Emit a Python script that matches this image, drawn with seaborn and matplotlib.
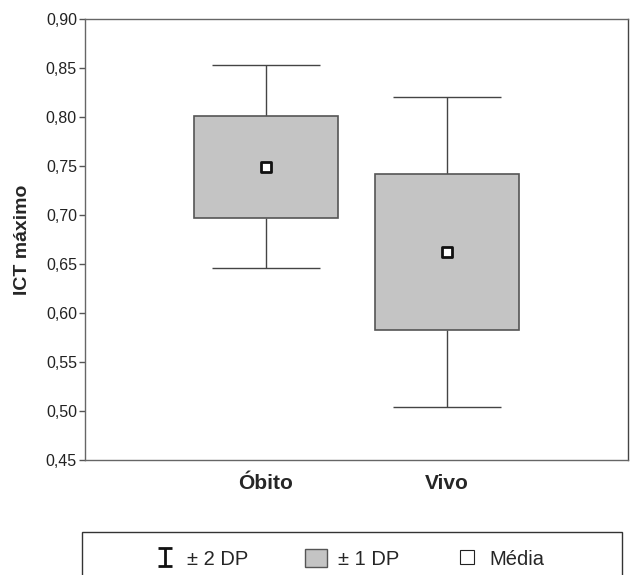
import numpy as np
import matplotlib
matplotlib.use("Agg")
import matplotlib.pyplot as plt
from matplotlib.lines import Line2D
from matplotlib.patches import Patch, Rectangle
from matplotlib.path import Path
from matplotlib.ticker import FuncFormatter
import seaborn as sns

# ---- data ----
groups = ["Óbito", "Vivo"]
means = [0.749, 0.662]
sd1_low = [0.697, 0.583]
sd1_high = [0.801, 0.742]
sd2_low = [0.646, 0.504]
sd2_high = [0.853, 0.820]
y_ticks = [0.45, 0.50, 0.55, 0.60, 0.65, 0.70, 0.75, 0.80, 0.85, 0.90]

sns.set_style("white")
plt.rcParams["font.family"] = ["Liberation Sans", "DejaVu Sans"]

fig = plt.figure(figsize=(6.3, 5.75), dpi=100)
ax = fig.add_axes([85 / 630, 1 - 460 / 575, (628 - 85) / 630, (460 - 19) / 575])

box_face = "#c4c4c4"
box_edge = "#555555"
line_col = "#444444"

heights = [h - l for h, l in zip(sd1_high, sd1_low)]
sns.barplot(x=groups, y=heights, bottom=sd1_low, ax=ax, color=box_face,
            edgecolor=box_edge, linewidth=1.2, width=0.8, errorbar=None,
            saturation=1, zorder=2)

pos = np.arange(len(groups))
cap = 0.3
ax.vlines(pos, sd1_high, sd2_high, color=line_col, lw=1, zorder=1)
ax.vlines(pos, sd2_low, sd1_low, color=line_col, lw=1, zorder=1)
ax.hlines(sd2_high, pos - cap, pos + cap, color=line_col, lw=1, zorder=1)
ax.hlines(sd2_low, pos - cap, pos + cap, color=line_col, lw=1, zorder=1)

sns.scatterplot(x=pos, y=means, ax=ax, marker="s", s=55, color="white",
                edgecolor="#111111", linewidth=2, zorder=4, legend=False)

ax.set_xlim(-1.0, 2.0)
ax.set_ylim(0.45, 0.90)
ax.set_yticks(y_ticks)
ax.yaxis.set_major_formatter(FuncFormatter(lambda v, p: f"{v:.2f}".replace(".", ",")))
ax.set_xticks(pos)
ax.set_xticklabels(groups, fontsize=15, fontweight="bold")
ax.tick_params(axis="x", length=0, pad=10)
ax.tick_params(axis="y", left=True, length=4.3, width=1, color="#555555",
               labelsize=11.5, pad=1.5, labelcolor="#222222")
for s in ax.spines.values():
    s.set_color("#666666")
    s.set_linewidth(1)
ax.spines["right"].set_color("#444444")
ax.set_ylabel("ICT máximo", fontsize=14, fontweight="bold")
ax.yaxis.set_label_coords(-0.1, 0.5)
ax.set_xlabel("")

# ---- legend ----
ibeam = Path([(-0.85, -1), (0.85, -1), (0, -1), (0, 1), (-0.85, 1), (0.85, 1)],
             [Path.MOVETO, Path.LINETO, Path.MOVETO, Path.LINETO, Path.MOVETO, Path.LINETO])
handles = [
    Line2D([], [], marker=ibeam, linestyle="none", markersize=12.5,
           markeredgewidth=2, color="#111111"),
    Patch(facecolor=box_face, edgecolor=box_edge, linewidth=1),
    Line2D([], [], marker="s", linestyle="none", markersize=9.4,
           markerfacecolor="white", markeredgecolor="#222222", markeredgewidth=0.8),
]
labels = ["± 2 DP", "± 1 DP", "Média"]
fig.patches.append(Rectangle((82 / 630, -0.05), 540 / 630, (575 - 532) / 575 + 0.05,
                             transform=fig.transFigure, fill=False,
                             edgecolor="#333333", lw=1))
fig.legend(handles, labels, loc="center left",
           bbox_to_anchor=(136 / 630, (575 - 559) / 575),
           ncol=3, frameon=False, fontsize=14.5, handlelength=1.1, handleheight=1.0,
           handletextpad=0.55, columnspacing=2.8, borderpad=0.4)

fig.savefig("out.png", dpi=100)
